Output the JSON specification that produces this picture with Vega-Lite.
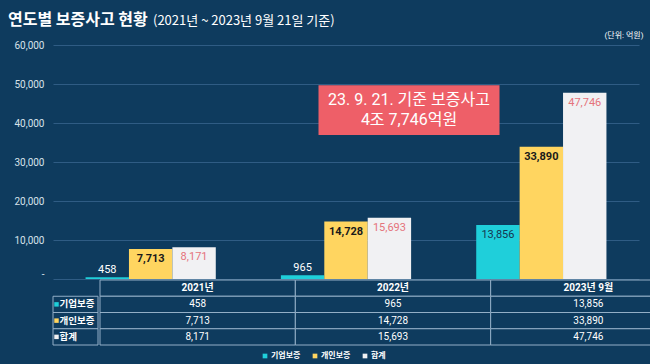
{
  "$schema": "https://vega.github.io/schema/vega-lite/v6.json",
  "background": "#0E3B5E",
  "padding": {"left": 8, "right": 11, "top": 12, "bottom": 10},
  "title": {"text": "연도별 보증사고 현황", "anchor": "start", "frame": "bounds", "fontSize": 16, "fontWeight": "bold", "color": "#FFFFFF", "offset": -13, "font": "Noto Sans CJK KR"},
  "datasets": {
    "sales": [
      {"year": "2021년", "type": "기업보증", "value": 458},
      {"year": "2021년", "type": "개인보증", "value": 7713},
      {"year": "2021년", "type": "합계", "value": 8171},
      {"year": "2022년", "type": "기업보증", "value": 965},
      {"year": "2022년", "type": "개인보증", "value": 14728},
      {"year": "2022년", "type": "합계", "value": 15693},
      {"year": "2023년 9월", "type": "기업보증", "value": 13856},
      {"year": "2023년 9월", "type": "개인보증", "value": 33890},
      {"year": "2023년 9월", "type": "합계", "value": 47746}
    ],
    "years": [{"year": "2021년"}, {"year": "2022년"}, {"year": "2023년 9월"}],
    "types": [{"type": "기업보증"}, {"type": "개인보증"}, {"type": "합계"}],
    "note": [{"label": "23. 9. 21. 기준 보증사고"}]
  },
  "vconcat": [
    {
      "width": 586,
      "height": 234,
      "title": {"text": "(2021년 ~ 2023년 9월 21일 기준)", "anchor": "start", "frame": "bounds", "dx": 145, "fontSize": 13, "fontWeight": "normal", "color": "#FFFFFF", "offset": 3},
      "layer": [
        {
          "data": {"name": "sales"},
          "mark": {"type": "bar"},
          "encoding": {
            "x": {"field": "year", "type": "nominal", "scale": {"paddingInner": 0, "paddingOuter": 0}, "axis": null},
            "xOffset": {"field": "type", "type": "nominal", "scale": {"domain": ["기업보증", "개인보증", "합계"], "paddingInner": 0, "paddingOuter": 0.75}},
            "y": {"field": "value", "type": "quantitative", "scale": {"domain": [0, 60000]},
              "axis": {"values": [0, 10000, 20000, 30000, 40000, 50000, 60000], "tickCount": 10, "title": "(단위: 억원)",
                "labelBaseline": {"condition": {"test": "datum.value == 0", "value": "bottom"}, "value": "middle"}}},
            "color": {"field": "type", "type": "nominal", "scale": {"domain": ["기업보증", "개인보증", "합계"], "range": ["#1FCFDA", "#FFD560", "#F1F1F3"]},
              "legend": {"title": null, "orient": "none", "legendX": 208, "legendY": 307, "direction": "horizontal", "symbolType": "square", "symbolSize": 22, "symbolStrokeWidth": 0, "labelColor": "#FFFFFF", "labelFontSize": 8, "labelFontWeight": "bold", "columnSpacing": 2, "labelOffset": 2}}
          }
        },
        {
          "data": {"name": "note"},
          "mark": {"type": "bar", "color": "#EE5F68", "width": 181, "xOffset": 63},
          "encoding": {
            "x": {"datum": "2022년", "type": "nominal"},
            "y": {"datum": 49700, "type": "quantitative"},
            "y2": {"datum": 36900}
          }
        },
        {
          "data": {"name": "note"},
          "mark": {"type": "text", "fontSize": 16, "lineHeight": 20, "color": "#FFFFFF", "xOffset": 63, "baseline": "middle", "align": "center"},
          "encoding": {
            "x": {"datum": "2022년", "type": "nominal"},
            "y": {"datum": 45900, "type": "quantitative"},
            "text": {"value": ["23. 9. 21. 기준 보증사고", "4조 7,746억원"]}
          }
        },
        {
          "data": {"name": "sales"},
          "transform": [{"filter": "datum.type == '기업보증' && datum.value < 5000"}],
          "mark": {"type": "text", "baseline": "middle", "dy": -7, "fontSize": 11, "color": "#FFFFFF"},
          "encoding": {
            "x": {"field": "year", "type": "nominal"},
            "xOffset": {"field": "type", "type": "nominal"},
            "y": {"field": "value", "type": "quantitative"},
            "text": {"field": "value", "type": "quantitative", "format": ","}
          }
        },
        {
          "data": {"name": "sales"},
          "transform": [{"filter": "datum.type == '기업보증' && datum.value >= 5000"}],
          "mark": {"type": "text", "baseline": "middle", "dy": 10, "fontSize": 11, "color": "#163650"},
          "encoding": {
            "x": {"field": "year", "type": "nominal"},
            "xOffset": {"field": "type", "type": "nominal"},
            "y": {"field": "value", "type": "quantitative"},
            "text": {"field": "value", "type": "quantitative", "format": ","}
          }
        },
        {
          "data": {"name": "sales"},
          "transform": [{"filter": "datum.type == '개인보증'"}],
          "mark": {"type": "text", "baseline": "middle", "dy": 10, "fontSize": 11, "fontWeight": "bold", "color": "#1A1A1A"},
          "encoding": {
            "x": {"field": "year", "type": "nominal"},
            "xOffset": {"field": "type", "type": "nominal"},
            "y": {"field": "value", "type": "quantitative"},
            "text": {"field": "value", "type": "quantitative", "format": ","}
          }
        },
        {
          "data": {"name": "sales"},
          "transform": [{"filter": "datum.type == '합계'"}],
          "mark": {"type": "text", "baseline": "middle", "dy": 10, "fontSize": 11, "color": "#E5737B"},
          "encoding": {
            "x": {"field": "year", "type": "nominal"},
            "xOffset": {"field": "type", "type": "nominal"},
            "y": {"field": "value", "type": "quantitative"},
            "text": {"field": "value", "type": "quantitative", "format": ","}
          }
        }
      ]
    },
    {
      "spacing": 0,
      "hconcat": [
        {
          "width": 45,
          "height": 65,
          "data": {"name": "types"},
          "layer": [
            {
              "mark": {"type": "rect", "fill": "#0E3B5E", "stroke": "#93AFC7", "strokeWidth": 1},
              "encoding": {
                "y": {"field": "type", "type": "nominal", "scale": {"domain": ["연도", "기업보증", "개인보증", "합계"], "paddingInner": 0, "paddingOuter": 0}, "axis": null}
              }
            },
            {
              "mark": {"type": "point", "shape": "square", "filled": true, "size": 20, "opacity": 1, "xOffset": -19},
              "encoding": {
                "y": {"field": "type", "type": "nominal"},
                "color": {"field": "type", "type": "nominal"}
              }
            },
            {
              "mark": {"type": "text", "align": "left", "baseline": "middle", "xOffset": -16, "fontSize": 9.5, "fontWeight": "bold", "color": "#FFFFFF"},
              "encoding": {
                "y": {"field": "type", "type": "nominal"},
                "text": {"field": "type", "type": "nominal"}
              }
            }
          ]
        },
        {
          "width": 586,
          "height": 65,
          "layer": [
            {
              "data": {"name": "years"},
              "mark": {"type": "rect", "fill": "#0E3B5E", "stroke": "#93AFC7", "strokeWidth": 1},
              "encoding": {
                "x": {"field": "year", "type": "nominal", "scale": {"paddingInner": 0, "paddingOuter": 0}, "axis": null},
                "y": {"datum": "연도", "type": "nominal", "scale": {"domain": ["연도", "기업보증", "개인보증", "합계"], "paddingInner": 0, "paddingOuter": 0}, "axis": null}
              }
            },
            {
              "data": {"name": "years"},
              "mark": {"type": "text", "baseline": "middle", "fontSize": 10, "fontWeight": "bold", "color": "#FFFFFF"},
              "encoding": {
                "x": {"field": "year", "type": "nominal"},
                "y": {"datum": "연도", "type": "nominal"},
                "text": {"field": "year", "type": "nominal"}
              }
            },
            {
              "data": {"name": "sales"},
              "mark": {"type": "rect", "fill": "#0E3B5E", "stroke": "#93AFC7", "strokeWidth": 1},
              "encoding": {
                "x": {"field": "year", "type": "nominal"},
                "y": {"field": "type", "type": "nominal"}
              }
            },
            {
              "data": {"name": "sales"},
              "mark": {"type": "text", "baseline": "middle", "fontSize": 10, "color": "#FFFFFF"},
              "encoding": {
                "x": {"field": "year", "type": "nominal"},
                "y": {"field": "type", "type": "nominal"},
                "text": {"field": "value", "type": "quantitative", "format": ","}
              }
            }
          ]
        }
      ]
    }
  ],
  "spacing": 0,
  "resolve": {"scale": {"x": "independent", "y": "independent", "color": "shared"}},
  "config": {
    "view": {"stroke": null},
    "font": "Roboto, 'Noto Sans CJK KR'",
    "title": {"font": "Noto Sans CJK KR"},
    "axisY": {"labelOverlap": false, "labelExpr": "datum.value == 0 ? '-' : format(datum.value, ',')",
      "titleAngle": 0, "titleAlign": "right", "titleBaseline": "middle", "titleX": 590, "titleY": -10, "titleFontSize": 8, "titleFontWeight": "normal", "titleColor": "#FFFFFF",
      "grid": true, "gridColor": "#2F5C84", "domain": false, "ticks": false, "labelPadding": 9, "labelColor": "#D8E2EA", "labelFontSize": 10, "minExtent": 45, "maxExtent": 45}
  }
}
